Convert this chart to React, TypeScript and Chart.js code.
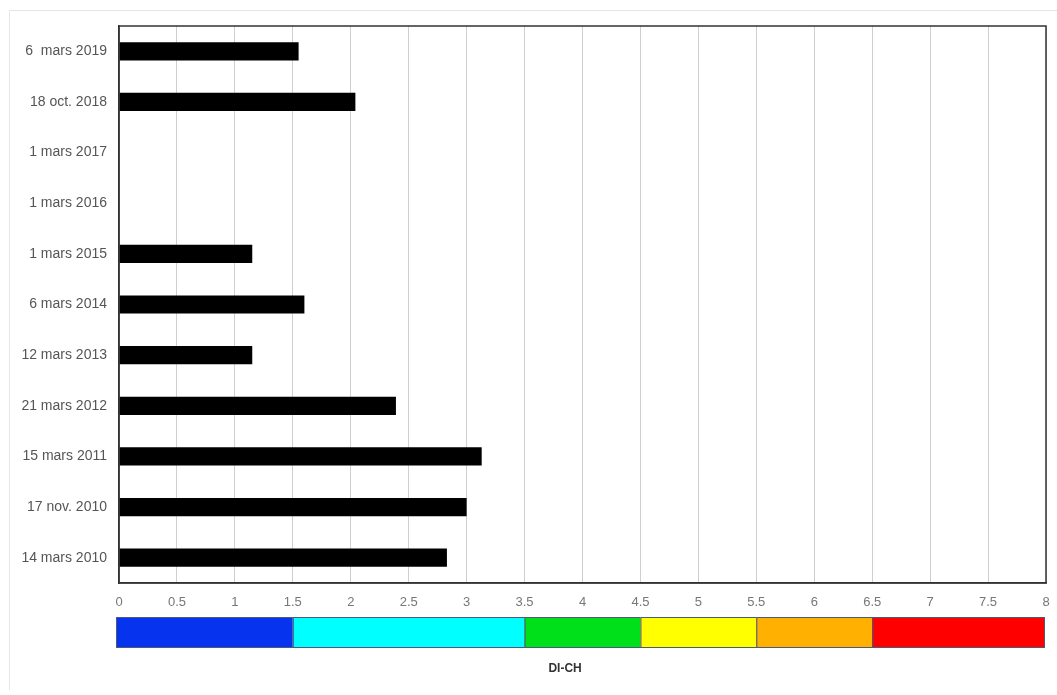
import React, { useEffect, useRef } from "react";
import { Chart, registerables } from "chart.js";

Chart.register(...registerables);

const categories = [
  "6  mars 2019",
  "18 oct. 2018",
  "1 mars 2017",
  "1 mars 2016",
  "1 mars 2015",
  "6 mars 2014",
  "12 mars 2013",
  "21 mars 2012",
  "15 mars 2011",
  "17 nov. 2010",
  "14 mars 2010",
];

const values: (number | null)[] = [1.55, 2.04, null, null, 1.15, 1.6, 1.15, 2.39, 3.13, 3.0, 2.83];

const bandEdges = [0, 1.5, 3.5, 4.5, 5.5, 6.5, 8];
const bandColors = ["#0634ee", "#00ffff", "#00e01a", "#ffff00", "#ffb000", "#ff0000"];

const axisTitle = "DI-CH";
const xMin = 0;
const xMax = 8;
const xStep = 0.5;

const decorPlugin = {
  id: "decor",
  beforeDraw(chart: any) {
    const ctx = chart.ctx;
    ctx.save();
    ctx.strokeStyle = "#e6e6e6";
    ctx.lineWidth = 1;
    ctx.beginPath();
    ctx.moveTo(9.5, 690);
    ctx.lineTo(9.5, 10.5);
    ctx.lineTo(1057, 10.5);
    ctx.stroke();
    ctx.restore();
  },
  afterDraw(chart: any) {
    const { ctx, chartArea } = chart;
    const x = chart.scales.x;
    ctx.save();
    ctx.strokeStyle = "#333";
    ctx.lineWidth = 1.5;
    ctx.strokeRect(chartArea.left, chartArea.top, chartArea.right - chartArea.left, chartArea.bottom - chartArea.top);
    const top = chartArea.bottom + 34;
    const h = 30;
    for (let i = 0; i < bandColors.length; i++) {
      let x0 = x.getPixelForValue(bandEdges[i]);
      let x1 = x.getPixelForValue(bandEdges[i + 1]);
      if (i === 0) x0 -= 3;
      if (i === bandColors.length - 1) x1 -= 2;
      ctx.fillStyle = bandColors[i];
      ctx.fillRect(x0, top, x1 - x0, h);
      ctx.strokeStyle = "#4a5a7a";
      ctx.lineWidth = 1;
      ctx.strokeRect(x0 + 0.5, top + 0.5, x1 - x0, h);
    }
    ctx.fillStyle = "#333";
    ctx.font = "bold 12px 'Liberation Sans', Arial, sans-serif";
    ctx.textAlign = "center";
    ctx.textBaseline = "middle";
    ctx.fillText(axisTitle, x.getPixelForValue(3.85), top + h + 22);
    ctx.restore();
  },
};

export default function App() {
  const ref = useRef<HTMLCanvasElement | null>(null);
  useEffect(() => {
    if (!ref.current) return;
    const chart = new Chart(ref.current, {
      type: "bar",
      data: {
        labels: categories,
        datasets: [
          {
            data: values,
            backgroundColor: "#000",
            borderWidth: 0,
            barPercentage: 0.36,
            categoryPercentage: 1,
          },
        ],
      },
      options: {
        indexAxis: "y",
        animation: false,
        responsive: false,
        maintainAspectRatio: false,
        layout: { padding: { top: 26, right: 11, bottom: 0, left: 0 } },
        plugins: { legend: { display: false }, tooltip: { enabled: false } },
        scales: {
          x: {
            type: "linear",
            min: xMin,
            max: xMax,
            ticks: {
              stepSize: xStep,
              padding: 12,
              color: "#777",
              font: { family: "'Liberation Sans', Arial, sans-serif", size: 13 },
              callback: (v: any) => String(v),
            },
            grid: { color: "#cfcfcf", lineWidth: 1, drawTicks: false },
            border: { display: true, color: "#333", width: 1.5 },
            afterFit: (s: any) => {
              s.height = 112;
              s.paddingRight = 0;
            },
          },
          y: {
            type: "category",
            ticks: {
              padding: 12,
              color: "#555",
              font: { family: "'Liberation Sans', Arial, sans-serif", size: 14 },
            },
            grid: { display: false, drawTicks: false },
            border: { display: true, color: "#333", width: 1.5 },
            afterFit: (s: any) => {
              s.width = 119;
            },
          },
        },
      },
      plugins: [decorPlugin],
    } as any);
    return () => chart.destroy();
  }, []);
  return (
    <div style={{ position: "fixed", left: 0, top: 0, width: 1057, height: 695, background: "#fff" }}>
      <canvas ref={ref} width={1057} height={695} style={{ width: 1057, height: 695, display: "block" }} />
    </div>
  );
}
